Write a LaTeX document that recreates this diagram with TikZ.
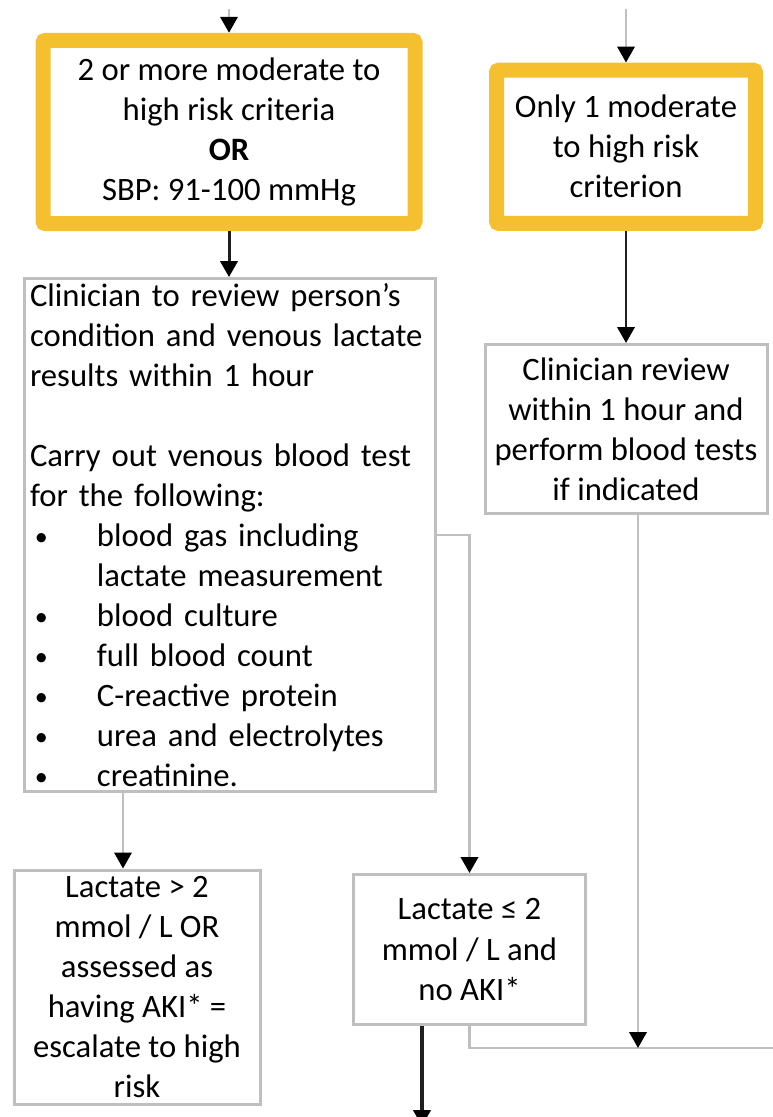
\documentclass[tikz,border=0pt]{standalone}
\usepackage{fontspec}
\setmainfont{Carlito}
\usetikzlibrary{arrows.meta}
\definecolor{yel}{RGB}{245,192,48}
\definecolor{gr}{RGB}{191,191,191}
\newcommand{\blt}{\makebox[50.25pt][l]{\hspace{3.75pt}\raisebox{1pt}{\scalebox{0.8}{\textbullet}}}}
\begin{document}
\begin{tikzpicture}[x=0.75pt,y=-0.75pt,
  txt/.style={font=\fontsize{24.5pt}{30pt}\selectfont},
  ybox/.style={txt,draw=yel,line width=11.25pt,rounded corners=2pt,fill=white,align=center,inner sep=0pt},
  gbox/.style={txt,draw=gr,line width=2.25pt,fill=white,align=center,inner sep=0pt},
  tip/.style={-{Triangle[length=12pt,width=13pt,color=black]}},
  gline/.style={draw=gr,line width=2pt},
  kline/.style={draw=black!88,line width=2.25pt}]
\useasboundingbox (0,0) rectangle (773,1117);
% boxes
\node[ybox,minimum width=279pt,minimum height=137.6pt] (A) at (229,132)
  {2 or more moderate to\\high risk criteria\\\textbf{OR}\\SBP: 91-100 mmHg};
\node[ybox,minimum width=194.25pt,minimum height=115.1pt] (C) at (626,146.75)
  {Only 1 moderate\\to high risk\\criterion};
\node[gbox,align=left,inner xsep=4.125pt,text width=300pt,minimum height=384.75pt] (B) at (230,535)
  {Clinician to review person's\\condition and venous lactate\\results within 1 hour\\[30pt]%
   Carry out venous blood test\\for the following:\\%
   \blt blood gas including\\%
   \makebox[50.25pt][l]{}lactate measurement\\%
   \blt blood culture\\%
   \blt full blood count\\%
   \blt C-reactive protein\\%
   \blt urea and electrolytes\\%
   \blt creatinine.};
\node[gbox,minimum width=211.5pt,minimum height=126.75pt] (D) at (626,429)
  {Clinician review\\within 1 hour and\\perform blood tests\\if indicated};
\node[gbox,minimum width=184.5pt,minimum height=175.5pt] (E) at (137,987)
  {Lactate > 2\\mmol / L OR\\assessed as\\having AKI* =\\escalate to high\\risk};
\node[gbox,minimum width=174pt,minimum height=112.5pt] (F) at (469.5,949.5)
  {Lactate ≤ 2\\mmol / L and\\no AKI*};
% free ends
\coordinate (tA) at (229,9);
\coordinate (tC) at (626,9);
\coordinate (xE) at (123,0);
\coordinate (J) at (638,1048);
\coordinate (R) at (775,1048);
\coordinate (out) at (422,1126);
% connectors
\draw[gline,tip] (tA) -- (A.north);
\draw[gline,tip] (tC) -- (C.north);
\draw[kline,tip] (A.south) -- (A.south |- B.north);
\draw[kline,line width=2pt,tip] (C.south) -- (D.north);
\draw[gline,tip] (B.east) -| (F.north);
\draw[gline,tip] (B.south -| xE) -- (E.north -| xE);
\draw[gline] (F.south) |- (R);
\draw[gline,tip] (D.south -| J) -- (J);
\draw[kline,line width=2.5pt,tip] (F.south -| out) -- (out);
\end{tikzpicture}
\end{document}
